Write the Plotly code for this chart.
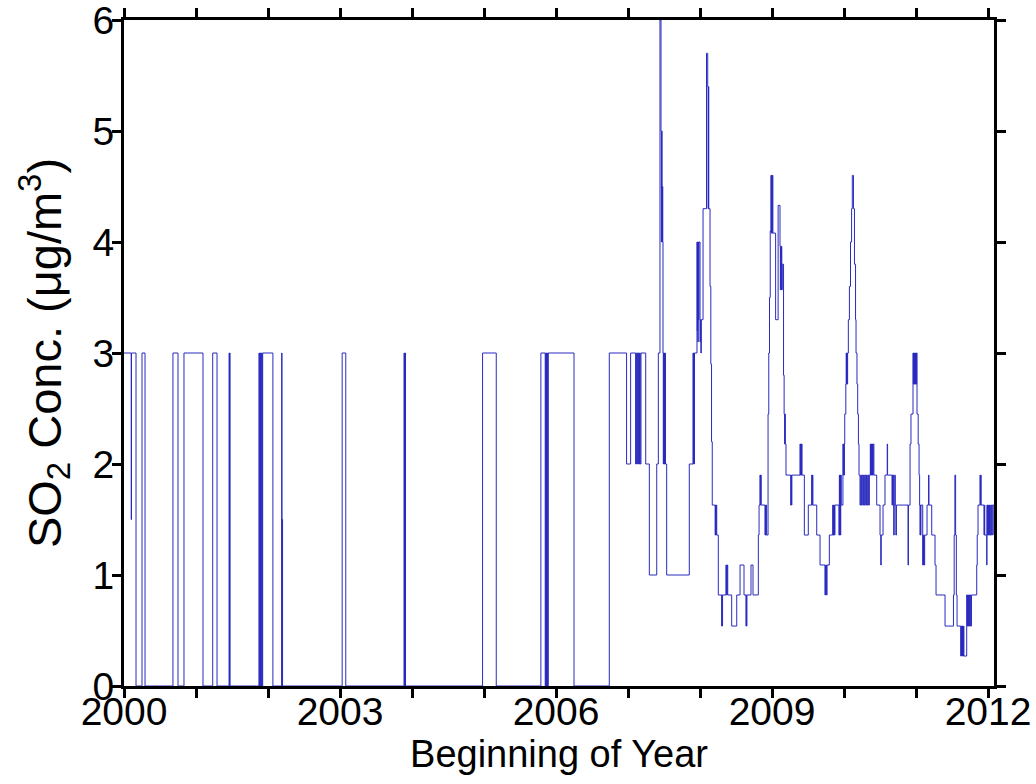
import plotly.graph_objects as go

# SO2 concentration (ug/m3): step-change times (decimal year) and the value that starts at each time
t_2000_2006 = [2000.000, 2000.100, 2000.104, 2000.167, 2000.250, 2000.292, 2000.680, 2000.750,
               2000.833, 2001.097, 2001.232, 2001.292, 2001.460, 2001.464, 2001.468, 2001.472,
               2001.875, 2001.880, 2001.886, 2001.892, 2001.898, 2001.905, 2001.912, 2001.920,
               2001.926, 2002.068, 2002.190, 2002.194, 2002.198, 2002.202, 2003.030, 2003.080,
               2003.890, 2003.894, 2003.898, 2003.902, 2003.906, 2003.910, 2004.980, 2005.170,
               2005.790, 2005.850, 2005.856, 2005.862, 2005.868, 2005.874, 2005.880, 2005.886,
               2005.892, 2006.250]
v_2000_2006 = [3, 1.5, 3, 0, 3, 0, 3, 0,
               3, 0, 3, 0, 3, 0, 3, 0,
               3, 0, 3, 0, 3, 0, 3, 0,
               3, 0, 3, 0, 1.5, 0, 3, 0,
               3, 0, 3, 0, 3, 0, 3, 0,
               3, 0, 3, 0, 3, 0, 3, 0,
               3, 0]

t_2007 = [2006.740, 2006.980, 2007.036, 2007.106, 2007.112, 2007.120, 2007.128, 2007.136,
          2007.144, 2007.152, 2007.160, 2007.170, 2007.180, 2007.246, 2007.296, 2007.399,
          2007.421, 2007.444, 2007.458, 2007.463, 2007.468, 2007.473, 2007.478, 2007.483,
          2007.486, 2007.490, 2007.495, 2007.500, 2007.505, 2007.510, 2007.515, 2007.520,
          2007.537, 2007.851, 2007.903, 2007.908, 2007.913, 2007.918, 2007.923, 2007.958,
          2007.962, 2007.966, 2007.970, 2007.975, 2007.980, 2007.985]
v_2007 = [3, 2, 3, 2, 3, 2, 3, 2,
          3, 2, 3, 2, 3, 2, 1, 2,
          3, 6, 5, 4, 5, 4, 4.5, 4,
          3, 2, 3, 2, 3, 2, 3, 2,
          1, 2, 3, 2, 3, 2, 3, 4,
          3.2, 4, 3.1, 4, 3.3, 4]

t_2008 = [2008.000, 2008.006, 2008.012, 2008.018, 2008.042, 2008.090, 2008.107, 2008.112,
          2008.117, 2008.122, 2008.139, 2008.150, 2008.160, 2008.170, 2008.210, 2008.215,
          2008.220, 2008.225, 2008.232, 2008.254, 2008.301, 2008.305, 2008.309, 2008.313,
          2008.361, 2008.365, 2008.369, 2008.373, 2008.377, 2008.385, 2008.440, 2008.510,
          2008.556, 2008.611, 2008.639, 2008.643, 2008.647, 2008.651, 2008.708, 2008.736,
          2008.810, 2008.820, 2008.833, 2008.838, 2008.843, 2008.850, 2008.903, 2008.908,
          2008.913, 2008.918, 2008.925, 2008.945, 2008.955, 2008.965, 2008.975, 2008.985,
          2008.990, 2008.995, 2009.000, 2009.005, 2009.012, 2009.050, 2009.085, 2009.111,
          2009.116, 2009.121, 2009.126, 2009.131, 2009.136, 2009.142, 2009.160, 2009.168,
          2009.175, 2009.180, 2009.185]
v_2008 = [3.1, 3.3, 3.0, 3.3, 4.3, 5.7, 5.4, 4.3,
          5.4, 4.3, 3.6, 2.9, 2.2, 1.63, 1.36, 1.63,
          1.36, 1.63, 1.36, 0.82, 0.54, 0.82, 0.54, 0.82,
          1.09, 0.82, 1.09, 0.82, 1.09, 0.82, 0.54, 0.82,
          1.09, 0.82, 0.54, 0.82, 0.54, 0.82, 1.09, 0.82,
          1.36, 1.63, 1.9, 1.63, 1.9, 1.63, 1.36, 1.63,
          1.36, 1.63, 1.36, 2.45, 3.0, 3.5, 4.1, 4.6,
          4.08, 4.6, 4.08, 4.6, 4.08, 3.3, 4.33, 3.96,
          3.57, 3.96, 3.57, 3.96, 3.57, 3.8, 2.8, 2.45,
          2.18, 2.45, 2.18]

t_2009 = [2009.194, 2009.260, 2009.265, 2009.270, 2009.276, 2009.389, 2009.394, 2009.399,
          2009.404, 2009.410, 2009.417, 2009.449, 2009.504, 2009.551, 2009.556, 2009.561,
          2009.568, 2009.621, 2009.667, 2009.736, 2009.741, 2009.746, 2009.752, 2009.758,
          2009.764, 2009.796, 2009.843, 2009.848, 2009.853, 2009.858, 2009.863, 2009.868,
          2009.874, 2009.930, 2009.935, 2009.940, 2009.945, 2009.950, 2009.955, 2009.962,
          2009.985, 2009.990, 2009.995, 2010.000, 2010.005, 2010.010, 2010.025, 2010.030,
          2010.035, 2010.040, 2010.045, 2010.050, 2010.060, 2010.075, 2010.090, 2010.105,
          2010.115, 2010.131, 2010.145, 2010.160, 2010.167, 2010.180, 2010.190, 2010.200,
          2010.208]
v_2009 = [1.9, 1.63, 1.9, 1.63, 1.9, 2.18, 1.9, 2.18,
          1.9, 2.18, 1.9, 1.36, 1.63, 1.9, 1.63, 1.9,
          1.63, 1.36, 1.09, 0.82, 1.09, 0.82, 1.09, 0.82,
          1.09, 1.36, 1.63, 1.36, 1.63, 1.36, 1.63, 1.36,
          1.63, 1.36, 1.9, 1.36, 1.9, 1.36, 1.9, 1.63,
          2.18, 1.9, 2.18, 1.9, 2.18, 2.45, 2.72, 3.0,
          2.72, 3.0, 2.72, 3.0, 3.3, 3.6, 4.0, 4.3,
          4.6, 4.3, 3.8, 3.3, 3.0, 2.72, 2.45, 2.18,
          1.9]

t_2010 = [2010.222, 2010.232, 2010.242, 2010.252, 2010.262, 2010.272, 2010.282, 2010.292,
          2010.302, 2010.312, 2010.322, 2010.332, 2010.342, 2010.352, 2010.361, 2010.365,
          2010.370, 2010.375, 2010.380, 2010.385, 2010.390, 2010.395, 2010.400, 2010.405,
          2010.415, 2010.454, 2010.500, 2010.510, 2010.517, 2010.542, 2010.569, 2010.600,
          2010.605, 2010.667, 2010.672, 2010.677, 2010.682, 2010.690, 2010.697, 2010.705,
          2010.712, 2010.720, 2010.728, 2010.889, 2010.895, 2010.917, 2010.930, 2010.958,
          2010.963, 2010.968, 2010.973, 2010.978, 2010.983, 2010.988, 2010.993, 2010.998,
          2011.003, 2011.008]
v_2010 = [1.63, 1.9, 1.63, 1.9, 1.63, 1.9, 1.63, 1.9,
          1.63, 1.9, 1.63, 1.9, 1.63, 1.9, 1.9, 2.18,
          1.9, 2.18, 1.9, 2.18, 1.9, 2.18, 1.9, 2.18,
          1.9, 1.63, 1.36, 1.09, 1.36, 1.63, 1.9, 2.18,
          1.9, 1.63, 1.9, 1.63, 1.9, 1.36, 1.63, 1.9,
          1.63, 1.36, 1.63, 1.09, 1.63, 2.18, 2.45, 3.0,
          2.72, 3.0, 2.72, 3.0, 2.72, 3.0, 2.72, 3.0,
          2.72, 3.0]

t_2011 = [2011.014, 2011.030, 2011.042, 2011.050, 2011.056, 2011.060, 2011.064, 2011.068,
          2011.093, 2011.098, 2011.103, 2011.108, 2011.113, 2011.120, 2011.153, 2011.174,
          2011.180, 2011.218, 2011.264, 2011.278, 2011.403, 2011.520, 2011.530, 2011.540,
          2011.550, 2011.560, 2011.570, 2011.621, 2011.626, 2011.631, 2011.636, 2011.641,
          2011.646, 2011.651, 2011.660, 2011.665, 2011.704, 2011.710, 2011.716, 2011.722,
          2011.728, 2011.734, 2011.740, 2011.746, 2011.752, 2011.760, 2011.770, 2011.843,
          2011.850, 2011.861, 2011.889, 2011.894, 2011.899, 2011.904, 2011.944, 2011.950,
          2011.955, 2011.982, 2011.985, 2011.990, 2011.995, 2012.000, 2012.005, 2012.010,
          2012.015, 2012.020, 2012.025, 2012.030, 2012.040, 2012.050, 2012.060, 2012.080]
v_2011 = [2.45, 2.18, 1.9, 1.63, 1.36, 1.63, 1.36, 1.63,
          1.09, 1.36, 1.09, 1.36, 1.09, 1.36, 1.63, 1.9,
          1.63, 1.36, 1.09, 0.82, 0.54, 0.82, 1.36, 1.9,
          1.36, 0.82, 0.54, 0.27, 0.54, 0.27, 0.54, 0.27,
          0.54, 0.27, 0.54, 0.27, 0.82, 0.54, 0.82, 0.54,
          0.82, 0.54, 0.82, 0.54, 0.82, 0.54, 0.82, 1.09,
          1.36, 1.63, 1.9, 1.63, 1.9, 1.63, 1.36, 1.63,
          1.36, 1.09, 1.63, 1.36, 1.63, 1.36, 1.63, 1.36,
          1.63, 1.36, 1.63, 1.36, 1.63, 1.36, 1.63, 1.36]

year_ticks = list(range(2000, 2013))
labelled_years = [2000, 2003, 2006, 2009, 2012]
conc_ticks = [0, 1, 2, 3, 4, 5, 6]

times = t_2000_2006 + t_2007 + t_2008 + t_2009 + t_2010 + t_2011
values = v_2000_2006 + v_2007 + v_2008 + v_2009 + v_2010 + v_2011

fig = go.Figure()
fig.add_trace(go.Scatter(
    x=times, y=values, mode="lines",
    line=dict(color="#2a2abf", width=1, shape="hv"),
    hoverinfo="skip",
))

FONT = "Liberation Sans, Arial, Helvetica, sans-serif"
axis_common = dict(
    showline=True, linecolor="black", linewidth=3, mirror="allticks",
    ticks="outside", ticklen=9, tickwidth=2.5, tickcolor="black",
    showgrid=False, zeroline=False, automargin=False,
    ticklabeloverflow="allow",
    tickfont=dict(family=FONT, size=39, color="black"),
)

fig.update_layout(
    width=1036, height=784,
    margin=dict(l=124, r=42, t=20, b=98),
    plot_bgcolor="white", paper_bgcolor="white",
    showlegend=False,
    font=dict(family=FONT, size=38, color="black"),
    xaxis=dict(
        range=[2000, 2012.083],
        tickmode="array", tickvals=year_ticks,
        ticktext=[str(y) if y in labelled_years else "" for y in year_ticks],
        ticklabelstandoff=-20,
        title=dict(text="Beginning of Year", font=dict(family=FONT, size=38), standoff=0),
        **axis_common,
    ),
    yaxis=dict(
        range=[0, 6],
        tickmode="array", tickvals=conc_ticks,
        ticktext=[str(v) for v in conc_ticks],
        ticklabelstandoff=-10,
        title=dict(text="SO<sub>2</sub> Conc. (\u03bcg/m<sup>3</sup>)",
                   font=dict(family=FONT, size=47), standoff=17),
        **axis_common,
    ),
)

fig.write_html("out.html")
